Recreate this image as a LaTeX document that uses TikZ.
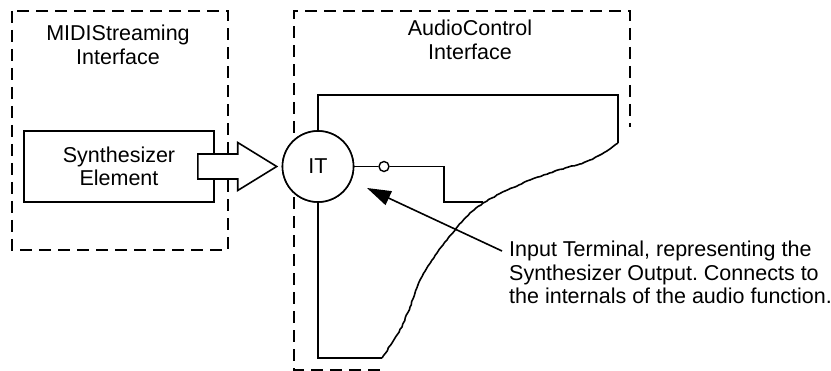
\documentclass[tikz,border=0pt]{standalone}
\usepackage{fontspec}
\setmainfont{Liberation Sans}
\usetikzlibrary{arrows.meta, positioning, calc, decorations.pathmorphing}
\newcommand{\diagfont}{\fontsize{21.5pt}{23.5pt}\selectfont}
\frenchspacing

\begin{document}
\begin{tikzpicture}[x=1pt, y=-1pt,
    iface/.style={draw, line width=1.8pt, dash pattern=on 12pt off 7pt},
    elem/.style={rectangle, draw, fill=white, line width=1.6pt,
                 minimum width=190pt, minimum height=71pt,
                 font=\diagfont, align=center},
    term/.style={circle, draw, fill=white, line width=1.6pt,
                 minimum size=71pt, inner sep=0pt, font=\diagfont},
    pin/.style={circle, draw, fill=white, line width=1.4pt,
                minimum size=10pt, inner sep=0pt},
    wire/.style={draw, line width=1.6pt},
    torn/.style={draw, line width=1.6pt, line join=round,
                 decorate, decoration={random steps, segment length=3pt, amplitude=0.5pt}},
    hollow/.style={draw, fill=white, line width=1.6pt, line join=miter},
    callout/.style={draw, line width=1.6pt, -{Triangle[length=24pt, width=15pt]}},
    title/.style={font=\diagfont, align=center},
  ]
    \useasboundingbox (0,0) rectangle (831,371);

    % interface outlines
    \draw[iface] (12,11) rectangle (228,250);
    \draw[iface] (380,370) -- (294,370) -- (294,11) -- (630,11) -- (630,127);
    \node[title] (msname) at (118,45) {MIDIStreaming\\Interface};
    \node[title] (acname) at (470,40) {AudioControl\\Interface};

    % audio function, torn off on the right
    \node[term] (IT) at (318,166.5) {};
    \coordinate (tearA) at (618,143);
    \coordinate (tearB) at (382,358);
    \draw[wire] (IT.north) |- (618,95) -- (tearA);
    \draw[torn] (tearA) -- (607,151) -- (598,156) -- (590,160)
      -- (580,164) -- (555,171) -- (530,180) -- (505,191) -- (483,203) -- (470,213)
      -- (458,226) -- (447,240) -- (437,253) -- (428,266) -- (420,280) -- (415,293)
      -- (410,307) -- (402,327) -- (392,343) -- (tearB);
    \draw[wire] (tearB) -| (IT.south);
    \node[term] at (IT) {IT};

    % synthesizer
    \node[elem] (synth) at (119,166.5) {Synthesizer\\Element};
    \draw[hollow] ($(synth.east)+(-17,-12.5)$) -- ($(IT.west)+(-44,-12.5)$)
      -- ($(IT.west)+(-44,-24)$) -- ($(IT.west)+(-5,0)$)
      -- ($(IT.west)+(-44,24)$) -- ($(IT.west)+(-44,12.5)$)
      -- ($(synth.east)+(-17,12.5)$) -- cycle;

    % output pin
    \node[pin] (out) at (384,166.5) {};
    \coordinate (edge) at (483,202);
    \draw[wire] (IT.east) -- (out.west);
    \draw[wire] (out.east) -| (444,202) -- (edge);

    % note
    \coordinate (ptr) at (367,188);
    \node[anchor=north west, inner sep=0pt, font=\diagfont, align=left] (note) at (509,241)
      {Input Terminal, representing the\\
       Synthesizer Output. Connects to\\
       the internals of the audio function.};
    \draw[callout] ([xshift=-7pt, yshift=-10pt]note.north west) -- (ptr);
\end{tikzpicture}
\end{document}
